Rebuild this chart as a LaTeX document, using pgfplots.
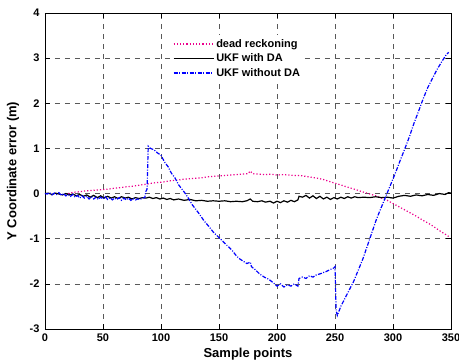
\documentclass[border=0pt]{standalone}
\usepackage{fontspec}
\setmainfont{Liberation Sans}
\usepackage{pgfplots}
\pgfplotsset{compat=1.18}
\begin{document}
\begin{tikzpicture}
\begin{axis}[
  at={(0pt,0pt)}, anchor=south west,
  width=406pt, height=316pt, scale only axis,
  xmin=0, xmax=350, ymin=-3, ymax=4,
  xtick={0,50,...,350}, ytick={-3,-2,...,4},
  tick align=inside, major tick length=5pt,
  axis line style={line width=0.8pt},
  every tick/.style={black, line width=0.6pt},
  grid=major,
  major grid style={black!65, line width=0.6pt, dash pattern=on 5pt off 5pt},
  /pgf/number format/assume math mode=true,
  xticklabel style={font=\bfseries\fontsize{11}{13}\selectfont, yshift=-1pt},
  yticklabel style={font=\bfseries\fontsize{11}{13}\selectfont, xshift=-2pt},
  every axis x label/.style={at={(axis description cs:0.5,0)}, anchor=center, yshift=-25pt,
    font=\bfseries\fontsize{13}{15}\selectfont},
  every axis y label/.style={at={(axis description cs:-0.079,0.5)}, rotate=90, anchor=center,
    font=\bfseries\fontsize{13}{15}\selectfont},
  xlabel={Sample points}, ylabel={Y Coordinate error (m)},
  legend style={draw=none, fill=white, at={(axis description cs:0.31,0.93)}, anchor=north west,
    font=\bfseries\fontsize{11}{13}\selectfont, row sep=1pt, inner sep=2pt},
  legend cell align=left,
  legend image code/.code={\draw[#1] (0pt,0pt) -- (40pt,0pt);},
]
\addplot[magenta, line width=1.2pt, dotted] coordinates {
(20,0.0) (25,0.03) (30,0.04) (35,0.06) (40,0.07) (45,0.08) (50,0.09) (55,0.1) (60,0.12) (65,0.13) (70,0.15) (75,0.16) (80,0.18) (85,0.2) (90,0.22) (95,0.24) (100,0.25) (105,0.27) (110,0.29) (115,0.3) (120,0.32) (125,0.33) (130,0.34) (135,0.35) (140,0.37) (145,0.38) (150,0.39) (155,0.4) (160,0.41) (165,0.42) (170,0.43) (175,0.44) (177,0.5) (179,0.44) (185,0.43) (190,0.42) (195,0.43) (200,0.41) (205,0.42) (210,0.41) (215,0.4) (220,0.4) (225,0.38) (230,0.36) (235,0.34) (240,0.31) (245,0.27) (250,0.23) (255,0.19) (260,0.15) (265,0.11) (270,0.07) (275,0.03) (280,-0.01) (285,-0.05) (290,-0.1) (295,-0.15) (300,-0.22) (305,-0.29) (310,-0.36) (315,-0.43) (320,-0.5) (325,-0.58) (330,-0.65) (335,-0.73) (340,-0.82) (345,-0.9) (348,-0.95)
};
\addlegendentry{dead reckoning}
\addplot[black, line width=1.2pt] coordinates {
(0,0) (3,0.01) (6,-0.02) (9,0.01) (12,-0.01) (15,-0.03) (18,0.0) (21,-0.03) (24,-0.01) (27,-0.05) (30,-0.02) (33,-0.06) (36,-0.03) (39,-0.08) (42,-0.04) (45,-0.09) (48,-0.05) (51,-0.1) (54,-0.06) (57,-0.1) (60,-0.07) (63,-0.11) (66,-0.07) (69,-0.1) (72,-0.08) (75,-0.12) (78,-0.09) (81,-0.11) (84,-0.09) (87,-0.1) (90,-0.08) (93,-0.11) (96,-0.09) (99,-0.12) (102,-0.1) (105,-0.13) (108,-0.11) (111,-0.14) (115,-0.12) (120,-0.15) (125,-0.13) (130,-0.16) (135,-0.15) (140,-0.17) (145,-0.16) (150,-0.17) (155,-0.16) (160,-0.18) (165,-0.17) (170,-0.18) (174,-0.16) (177,-0.12) (179,-0.17) (183,-0.18) (187,-0.16) (190,-0.19) (194,-0.17) (197,-0.21) (200,-0.17) (203,-0.2) (206,-0.16) (209,-0.19) (212,-0.15) (215,-0.18) (218,-0.14) (219,-0.06) (222,-0.08) (225,-0.04) (228,-0.1) (231,-0.05) (234,-0.11) (237,-0.06) (240,-0.12) (243,-0.08) (246,-0.13) (249,-0.09) (252,-0.12) (255,-0.08) (258,-0.11) (261,-0.07) (264,-0.1) (267,-0.07) (270,-0.09) (275,-0.08) (280,-0.09) (285,-0.07) (290,-0.09) (295,-0.08) (300,-0.1) (305,-0.06) (310,-0.04) (315,-0.06) (320,-0.03) (325,-0.05) (330,-0.02) (335,-0.04) (340,0.0) (345,-0.02) (348,0.02) (350,0.01)
};
\addlegendentry{UKF with DA}
\addplot[blue, line width=1.2pt, dash pattern=on 4pt off 1.5pt on 1pt off 1.5pt] coordinates {
(0,0) (2,-0.01) (4,0.02) (6,-0.03) (8,0.01) (10,-0.02) (12,0.02) (14,-0.04) (16,0.0) (18,-0.05) (20,-0.02) (22,-0.06) (24,-0.02) (26,-0.08) (28,-0.04) (30,-0.1) (32,-0.05) (34,-0.1) (36,-0.06) (38,-0.12) (40,-0.07) (42,-0.12) (44,-0.08) (46,-0.13) (48,-0.08) (50,-0.12) (52,-0.07) (54,-0.13) (56,-0.09) (58,-0.14) (60,-0.1) (62,-0.13) (64,-0.09) (66,-0.15) (68,-0.1) (70,-0.14) (72,-0.1) (74,-0.15) (76,-0.11) (78,-0.14) (80,-0.12) (82,-0.13) (84,-0.1) (86,-0.09) (87,0.05) (88,0.1) (89,1.05) (91,1.0) (94,0.97) (97,0.9) (100,0.85) (103,0.7) (106,0.6) (109,0.45) (112,0.35) (115,0.2) (118,0.1) (121,0.0) (124,-0.12) (127,-0.25) (130,-0.35) (133,-0.45) (137,-0.6) (141,-0.72) (145,-0.85) (149,-0.95) (153,-1.05) (157,-1.15) (161,-1.25) (165,-1.38) (168,-1.45) (171,-1.5) (174,-1.55) (177,-1.52) (178,-1.62) (181,-1.68) (185,-1.78) (189,-1.85) (193,-1.9) (197,-1.98) (200,-2.05) (203,-2.0) (206,-2.07) (209,-2.02) (212,-2.05) (215,-2.0) (218,-2.05) (219,-1.88) (222,-1.85) (225,-1.88) (228,-1.82) (231,-1.85) (234,-1.8) (237,-1.78) (240,-1.75) (243,-1.72) (246,-1.68) (249,-1.65) (250,-1.62) (251,-2.6) (252,-2.7) (255,-2.5) (258,-2.35) (262,-2.15) (266,-1.95) (270,-1.7) (274,-1.45) (278,-1.15) (282,-0.85) (286,-0.55) (290,-0.3) (294,-0.05) (298,0.2) (302,0.45) (306,0.72) (310,0.98) (314,1.25) (318,1.55) (322,1.82) (326,2.1) (330,2.35) (334,2.55) (338,2.75) (342,2.92) (346,3.08) (348,3.13)
};
\addlegendentry{UKF without DA}
\end{axis}
\pgfresetboundingbox
\path[use as bounding box] (-45pt,-35pt) rectangle (414pt,329pt);
\end{tikzpicture}
\end{document}
